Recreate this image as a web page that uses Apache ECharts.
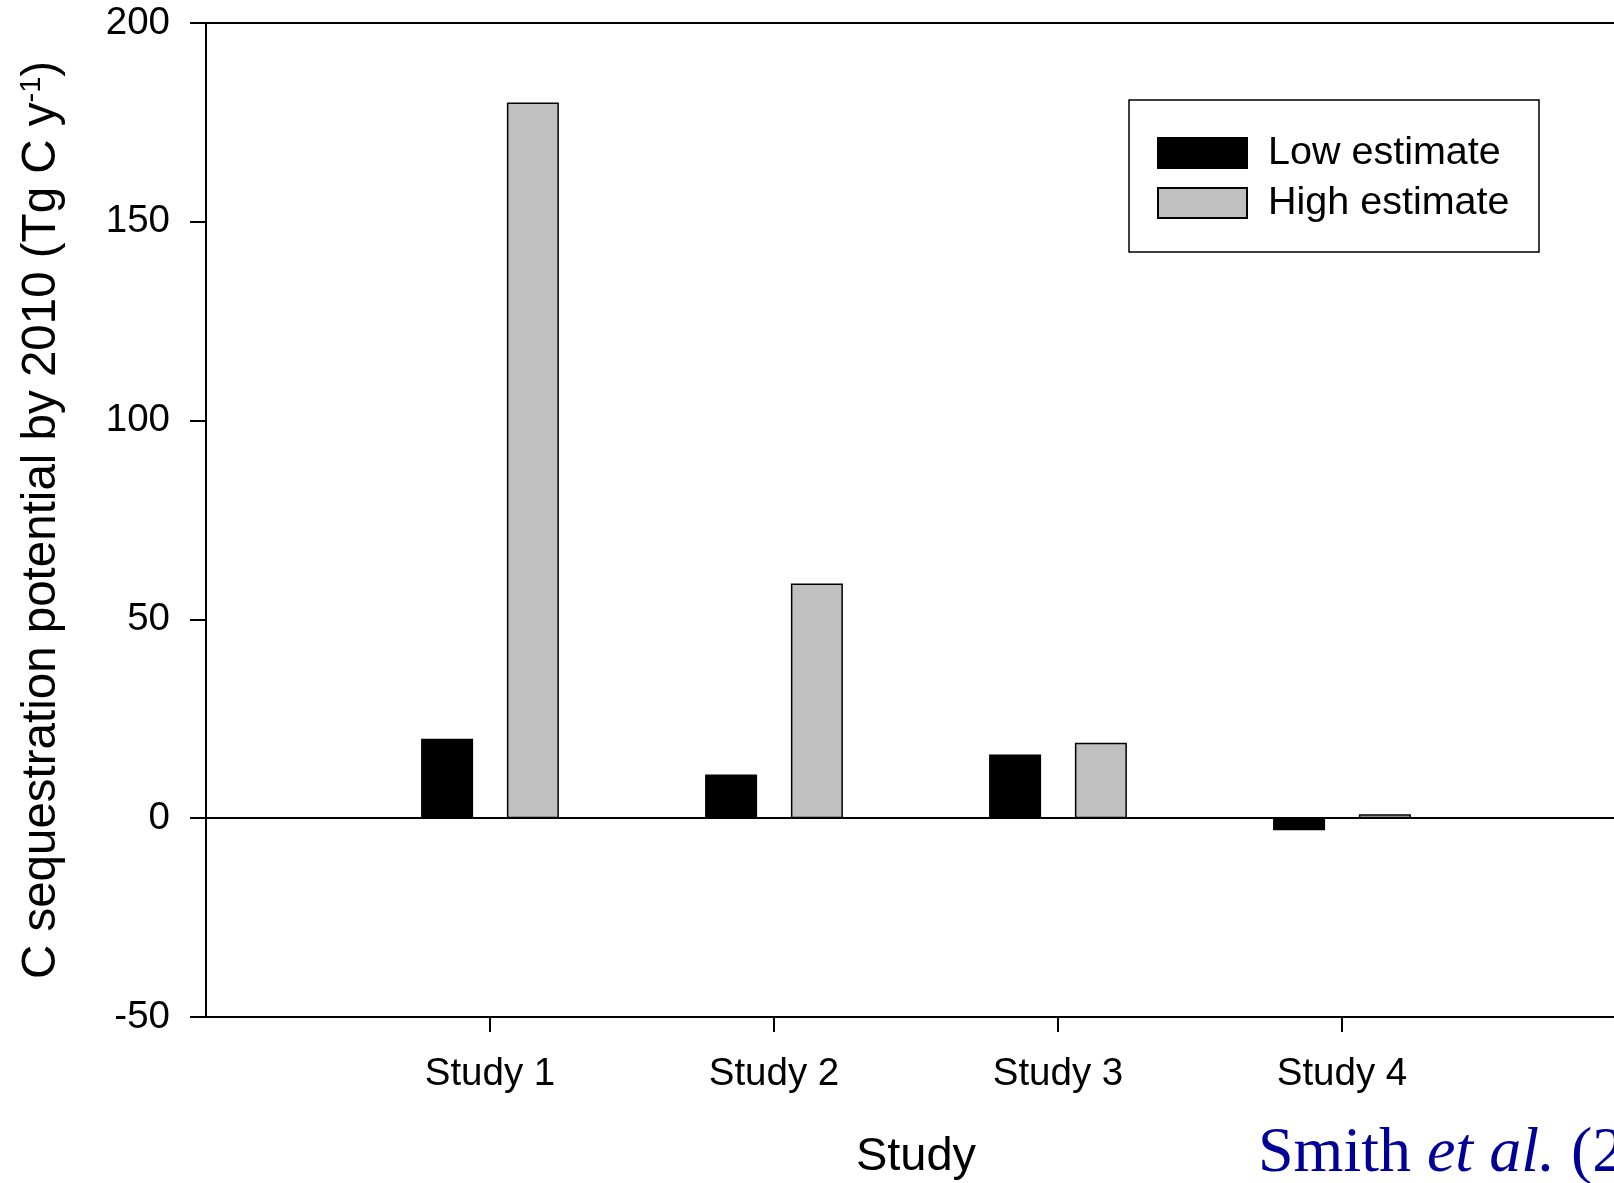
<!DOCTYPE html>
<html>
<head>
<meta charset="utf-8">
<script src="https://cdn.jsdelivr.net/npm/echarts@6/dist/echarts.min.js"></script>
<style>
html,body{margin:0;padding:0;background:#fff;}
#c{width:1614px;height:1183px;}
</style>
</head>
<body>
<div id="c"></div>
<script>
const categories = ['Study 1', 'Study 2', 'Study 3', 'Study 4'];
const categoryPositions = [1, 2, 3, 4];
const lowEstimate = [20, 11, 16, -3];
const highEstimate = [180, 59, 19, 1];
const yTicks = [-50, 0, 50, 100, 150, 200];

const FONT = '"Liberation Sans", Arial, Helvetica, sans-serif';
const chart = echarts.init(document.getElementById('c'), null, {renderer: 'canvas'});

const pair = (vals) => vals.map((v, i) => [categoryPositions[i], v]);

const option = {
  animation: false,
  backgroundColor: '#fff',
  grid: {left: 206, top: 23, width: 1420, bottom: 166, containLabel: false, outerBoundsMode: 'none'},
  legend: {
    orient: 'vertical',
    left: 1157,
    top: 133,
    padding: 0,
    icon: 'rect',
    itemWidth: 89,
    itemHeight: 30,
    itemGap: 10,
    selectedMode: false,
    textStyle: {fontFamily: FONT, fontSize: 39.5, color: '#000', lineHeight: 30, padding: [0, 0, 0, 16]},
    data: ['Low estimate', 'High estimate']
  },
  xAxis: [{
    type: 'value',
    min: 0, max: 5, interval: 1,
    position: 'bottom',
    name: 'Study',
    nameLocation: 'middle',
    nameGap: 117,
    nameTextStyle: {fontFamily: FONT, fontSize: 47, color: '#000'},
    axisLine: {show: true, onZero: false, lineStyle: {color: '#000', width: 2}},
    axisTick: {show: true, length: 15, inside: false, customValues: categoryPositions, lineStyle: {color: '#000', width: 2}},
    axisLabel: {
      show: true, margin: 38, customValues: categoryPositions,
      fontFamily: FONT, fontSize: 38.5, color: '#000',
      formatter: (v) => categories[categoryPositions.indexOf(v)] || ''
    },
    splitLine: {show: false}
  }, {
    type: 'value',
    min: 0, max: 5, interval: 1,
    position: 'top',
    axisLine: {show: true, onZero: false, lineStyle: {color: '#000', width: 2}},
    axisTick: {show: false},
    axisLabel: {show: false},
    splitLine: {show: false}
  }],
  yAxis: {
    type: 'value',
    min: yTicks[0], max: yTicks[yTicks.length - 1], interval: 50,
    name: '{n|C sequestration potential by 2010 (Tg C y}{s|-1}{n|)}',
    nameLocation: 'middle',
    nameRotate: 90,
    nameGap: 139,
    nameTextStyle: {
      fontFamily: FONT, color: '#000',
      rich: {
        n: {fontFamily: FONT, fontSize: 47.5, lineHeight: 50, color: '#000'},
        s: {fontFamily: FONT, fontSize: 29, lineHeight: 29, color: '#000', verticalAlign: 'top'}
      }
    },
    axisLine: {show: true, onZero: false, lineStyle: {color: '#000', width: 2}},
    axisTick: {show: true, length: 16, inside: false, lineStyle: {color: '#000', width: 2}},
    axisLabel: {margin: 36, fontFamily: FONT, fontSize: 38.5, color: '#000'},
    splitLine: {show: false}
  },
  series: [{
    name: 'Low estimate',
    type: 'bar',
    xAxisIndex: 0,
    barWidth: 52,
    barGap: '65%',
    itemStyle: {color: '#000000', borderColor: '#000', borderWidth: 1.5},
    data: pair(lowEstimate),
    markLine: {
      silent: true,
      symbol: 'none',
      label: {show: false},
      lineStyle: {color: '#000', width: 2, type: 'solid'},
      data: [{yAxis: 0}]
    }
  }, {
    name: 'High estimate',
    type: 'bar',
    xAxisIndex: 0,
    barWidth: 52,
    barGap: '65%',
    itemStyle: {color: '#c0c0c0', borderColor: '#000', borderWidth: 1.5},
    data: pair(highEstimate)
  }],
  graphic: [{
    type: 'rect',
    shape: {x: 1129, y: 100, width: 410, height: 152},
    style: {fill: 'none', stroke: '#000', lineWidth: 1.5},
    silent: true
  }, {
    type: 'text',
    x: 1258,
    y: 1154,
    style: {
      text: '{r|Smith }{i|et al.}{r| (2}',
      verticalAlign: 'middle',
      align: 'left',
      rich: {
        r: {fontFamily: '"Liberation Serif", "Times New Roman", serif', fontSize: 64, fill: '#000099', lineHeight: 64},
        i: {fontFamily: '"Liberation Serif", "Times New Roman", serif', fontStyle: 'italic', fontSize: 64, fill: '#000099', lineHeight: 64}
      }
    },
    silent: true
  }]
};
chart.setOption(option);
</script>
</body>
</html>
